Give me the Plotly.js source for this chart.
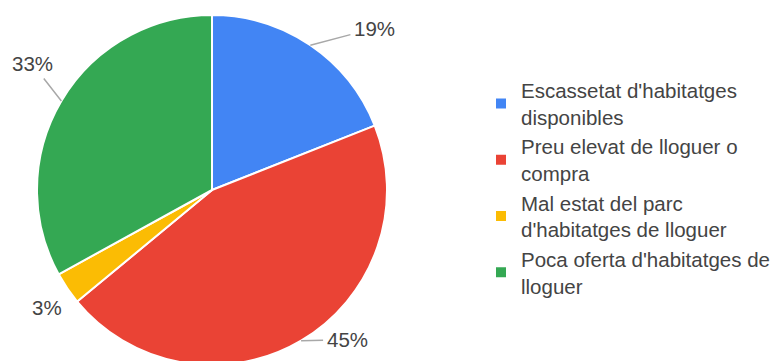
<!DOCTYPE html>
<html>
<head>
<meta charset="utf-8">
<script src="https://cdn.plot.ly/plotly-3.0.1.min.js"></script>
<style>
  html, body { margin: 0; padding: 0; overflow: hidden; background: #fff; }
  #chart { width: 775px; height: 380px; }
</style>
</head>
<body>
<div id="chart"></div>
<script>
// ---- data ----
const categories = [
  "Escassetat d'habitatges<br>disponibles",
  "Preu elevat de lloguer o<br>compra",
  "Mal estat del parc<br>d'habitatges de lloguer",
  "Poca oferta d'habitatges de<br>lloguer"
];
const values = [19, 45, 3, 33];
const colors = ["#4285F4", "#EA4335", "#FBBC04", "#34A853"];

// ---- styling for the outside percentage labels (pixel offsets from slice edge) ----
const labelOffsets = [[64, -17], [46, -1], [-20, 19], [-29, -37]];
const showLeader = [true, true, false, true];

const W = 775, H = 380, M = {l: 0, r: 0, t: 15, b: 15};
const pieDomainX = [37 / W, 387 / W];
const pieDomainY = [0, 1];
const FONT = 'Liberation Sans, Arial, sans-serif';

const plotW = W - M.l - M.r, plotH = H - M.t - M.b;
const rPx = Math.min(plotW * (pieDomainX[1] - pieDomainX[0]), plotH * (pieDomainY[1] - pieDomainY[0])) / 2;
const cxPaper = (pieDomainX[0] + pieDomainX[1]) / 2;
const cyPaper = (pieDomainY[0] + pieDomainY[1]) / 2;

const total = values.reduce((a, b) => a + b, 0);
let cum = 0;
const annotations = values.map((v, i) => {
  const mid = (cum + v / 2) / total * 2 * Math.PI; // clockwise from 12 o'clock
  cum += v;
  const x = cxPaper + rPx * Math.sin(mid) / plotW;
  const y = cyPaper + rPx * Math.cos(mid) / plotH;
  return {
    x: x, y: y, xref: 'paper', yref: 'paper',
    text: Math.round(v / total * 100) + '%',
    showarrow: true,
    arrowhead: 0, arrowwidth: 1.5, standoff: 0, startstandoff: 2,
    arrowcolor: showLeader[i] ? '#a8a8a8' : 'rgba(0,0,0,0)',
    ax: labelOffsets[i][0], ay: labelOffsets[i][1],
    font: {family: FONT, size: 20.5, color: '#444444'}
  };
});

const trace = {
  type: 'pie',
  labels: categories,
  values: values,
  sort: false,
  direction: 'clockwise',
  rotation: 0,
  textinfo: 'none',
  hoverinfo: 'label+percent',
  marker: {colors: colors, line: {color: '#ffffff', width: 2}},
  domain: {x: pieDomainX, y: pieDomainY}
};

const layout = {
  width: W, height: H,
  margin: M,
  paper_bgcolor: '#ffffff',
  showlegend: true,
  legend: {
    x: 481 / W, y: 0.842, xanchor: 'left', yanchor: 'top',
    font: {family: FONT, size: 20.5, color: '#444444'},
    bgcolor: 'rgba(0,0,0,0)'
  },
  annotations: annotations,
  font: {family: FONT}
};

Plotly.newPlot('chart', [trace], layout, {displayModeBar: false, staticPlot: true});
</script>
</body>
</html>
